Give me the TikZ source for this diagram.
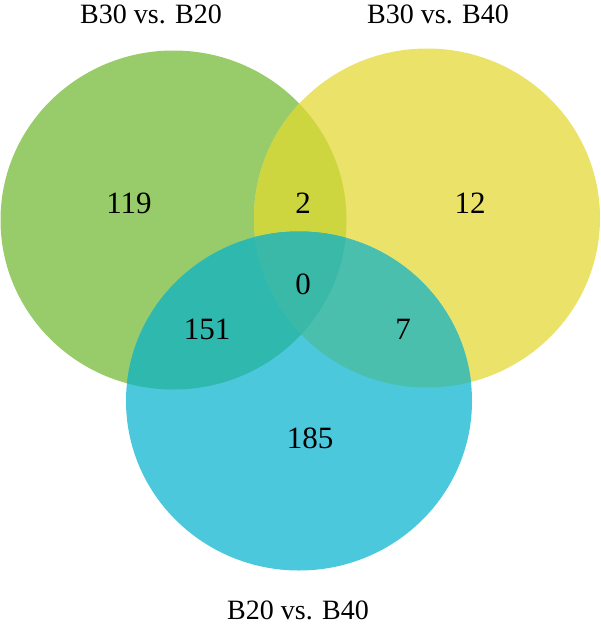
\documentclass[tikz,border=0pt]{standalone}
\usepackage{fontspec}
\setmainfont{Liberation Serif}
\definecolor{cG}{HTML}{98CC6A}
\definecolor{cY}{HTML}{EBE26A}
\definecolor{cB}{HTML}{4BC8DC}
\definecolor{cGY}{HTML}{CDD63F}
\definecolor{cGB}{HTML}{2EB8AE}
\definecolor{cYB}{HTML}{4ABFAE}
\definecolor{cGYB}{HTML}{3BB9A8}
\begin{document}
\begin{tikzpicture}[x=1pt,y=-1pt,
  num/.style={font=\fontsize{31}{31}\selectfont, inner sep=0pt},
  lab/.style={font=\fontsize{28}{28}\selectfont, inner sep=0pt}]
\useasboundingbox (0,0) rectangle (600,626);
\def\G{(173.5,220) ellipse [x radius=173, y radius=169.5]}
\def\Y{(427,218) ellipse [x radius=173, y radius=169.5]}
\def\B{(299,401) ellipse [x radius=173, y radius=169.5]}
\fill[cG] \G;
\fill[cY] \Y;
\fill[cB] \B;
\begin{scope}\clip \G; \fill[cGY] \Y; \end{scope}
\begin{scope}\clip \G; \fill[cGB] \B; \end{scope}
\begin{scope}\clip \Y; \fill[cYB] \B; \end{scope}
\begin{scope}\clip \G; \clip \Y; \fill[cGYB] \B; \end{scope}
\node[lab] (lg) at (151,14) {B30 vs. B20};
\node[lab] (ly) at (438,14) {B30 vs. B40};
\node[lab] (lb) at (298,610) {B20 vs. B40};
\node[num] (n119) at (129,203) {119};
\node[num] (n2) at (303,203) {2};
\node[num] (n12) at (470,203) {12};
\node[num] (n0) at (303,284) {0};
\node[num] (n151) at (207,329) {151};
\node[num] (n7) at (403,329) {7};
\node[num] (n185) at (310,438) {185};
\end{tikzpicture}
\end{document}
